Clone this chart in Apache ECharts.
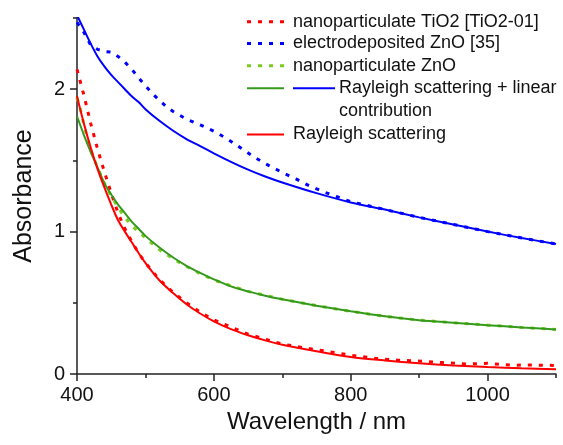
<!DOCTYPE html>
<html>
<head>
<meta charset="utf-8">
<script src="https://cdn.jsdelivr.net/npm/echarts@6/dist/echarts.min.js"></script>
<style>
  html, body { margin: 0; padding: 0; background: #fff; }
  #chart { width: 563px; height: 445px; }
</style>
</head>
<body>
<div id="chart"></div>
<script>
// measured spectra (dotted)
const tio2Wl = [400, 405, 410, 415, 420, 425, 430, 440, 450, 460, 470, 480, 490, 500, 520, 540, 560, 580, 600, 650, 700, 745, 780, 810, 840, 870, 905, 935, 970, 1000, 1035, 1065, 1100]
const tio2Abs = [2.14, 2.05, 1.96, 1.86, 1.76, 1.67, 1.58, 1.42, 1.27, 1.13, 1.02, 0.93, 0.85, 0.78, 0.665, 0.575, 0.5, 0.435, 0.38, 0.28, 0.21, 0.174, 0.148, 0.125, 0.108, 0.097, 0.09, 0.08, 0.07, 0.075, 0.062, 0.063, 0.06]

const znoEdWl = [400, 410, 420, 430, 440, 450, 460, 470, 480, 490, 500, 510, 520, 530, 540, 560, 580, 600, 620, 640, 660, 680, 700, 720, 740, 760, 780, 800, 850, 900, 950, 1000, 1050, 1100]
const znoEdAbs = [2.47, 2.4, 2.31, 2.28, 2.265, 2.26, 2.23, 2.19, 2.14, 2.08, 2.025, 1.97, 1.925, 1.88, 1.845, 1.79, 1.75, 1.705, 1.65, 1.585, 1.52, 1.465, 1.415, 1.37, 1.32, 1.28, 1.245, 1.21, 1.155, 1.1, 1.05, 1.0, 0.955, 0.913]

const znoNpWl = [400, 405, 410, 420, 430, 440, 450, 460, 470, 480, 490, 500, 510, 520, 540, 560, 580, 600, 650, 700, 750, 800, 850, 900, 950, 1000, 1050, 1100]
const znoNpAbs = [1.94, 1.86, 1.75, 1.57, 1.45, 1.34, 1.25, 1.17, 1.1, 1.04, 1.0, 0.955, 0.915, 0.875, 0.81, 0.755, 0.705, 0.66, 0.58, 0.525, 0.48, 0.44, 0.405, 0.378, 0.36, 0.343, 0.327, 0.313]

// fits (solid)
const fitWl = [400, 410, 420, 430, 440, 450, 460, 470, 480, 490, 500, 520, 540, 560, 580, 600, 625, 650, 675, 700, 750, 800, 850, 900, 950, 1000, 1050, 1100]
const rayleighFit = [1.95, 1.76, 1.59, 1.44, 1.31, 1.19, 1.08, 1.0, 0.925, 0.85, 0.78, 0.66, 0.57, 0.49, 0.425, 0.37, 0.315, 0.272, 0.236, 0.205, 0.16, 0.12, 0.095, 0.075, 0.06, 0.049, 0.04, 0.033]
const znoNpFit = [1.81, 1.68, 1.56, 1.45, 1.34, 1.26, 1.19, 1.13, 1.07, 1.02, 0.97, 0.89, 0.82, 0.76, 0.71, 0.665, 0.615, 0.58, 0.55, 0.525, 0.48, 0.44, 0.405, 0.378, 0.36, 0.343, 0.327, 0.313]
const znoEdFit = [2.52, 2.42, 2.32, 2.23, 2.16, 2.1, 2.05, 2.0, 1.95, 1.91, 1.86, 1.78, 1.71, 1.65, 1.6, 1.55, 1.49, 1.435, 1.387, 1.345, 1.27, 1.205, 1.155, 1.1, 1.05, 1.0, 0.955, 0.913]

// ticks
const xMajor = [400, 600, 800, 1000]
const xMinor = [500, 700, 900, 1100]
const yMajor = [0, 1, 2]
const yMinor = [0.5, 1.5, 2.5]

const legendRows = [
  'nanoparticulate TiO2 [TiO2-01]',
  'electrodeposited ZnO [35]',
  'nanoparticulate ZnO',
  'Rayleigh scattering + linear',
  'contribution',
  'Rayleigh scattering',
]

const RED = '#ff0000'
const BLUE = '#0000ff'
const GREEN = '#359a1c'
const LGREEN = '#7acc20'
const AXIS = '#222'
const FONT = '"Liberation Sans", Arial, sans-serif'
const DOTS = [4, 7]

const pairs = (xs, ys) => xs.map((x, i) => [x, ys[i]])

function dotted(data, color) {
  return {
    type: 'line', data, symbol: 'none', silent: true,
    lineStyle: { color, width: 3, type: DOTS, cap: 'butt' },
    z: 2,
  }
}
function solid(data, color) {
  return {
    type: 'line', data, symbol: 'none', silent: true, smooth: 0.3,
    lineStyle: { color, width: 2 },
    z: 3,
  }
}

function legendLine(x1, x2, y, color, dash) {
  return {
    type: 'line',
    shape: { x1, y1: y, x2, y2: y },
    style: { stroke: color, lineWidth: dash ? 3 : 2, lineDash: dash || null },
  }
}
function legendText(x, y, text) {
  return {
    type: 'text', x, y,
    style: { text, font: '18px ' + FONT, fill: '#111', verticalAlign: 'middle' },
  }
}

const rowY = [21.7, 43.5, 65.7, 88.3, 111.5, 134.5]

const chart = echarts.init(document.getElementById('chart'), null, { renderer: 'canvas' })

chart.setOption({
  animation: false,
  backgroundColor: '#fff',
  grid: { left: 77, right: 7, top: 18, bottom: 71 },
  textStyle: { fontFamily: FONT },
  xAxis: [
    {
      type: 'value', min: 400, max: 1100,
      name: 'Wavelength / nm', nameLocation: 'middle', nameGap: 30,
      nameTextStyle: { fontSize: 24, color: '#111', fontFamily: FONT },
      axisLine: { lineStyle: { color: AXIS, width: 1.5 } },
      axisTick: { customValues: xMajor, length: 7, lineStyle: { color: AXIS, width: 1.5 } },
      axisLabel: { customValues: xMajor, fontSize: 20, color: '#111', margin: 11, fontFamily: FONT, formatter: (v) => String(v) },
      splitLine: { show: false },
    },
    {
      type: 'value', min: 400, max: 1100, position: 'bottom',
      axisLine: { show: false },
      axisTick: { customValues: xMinor, length: 4, lineStyle: { color: AXIS, width: 1.5 } },
      axisLabel: { show: false },
      splitLine: { show: false },
    },
  ],
  yAxis: [
    {
      type: 'value', min: 0, max: 2.5,
      name: 'Absorbance', nameLocation: 'middle', nameGap: 40,
      nameTextStyle: { fontSize: 25, color: '#111', fontFamily: FONT },
      axisLine: { show: true, lineStyle: { color: AXIS, width: 1.5 } },
      axisTick: { show: true, customValues: yMajor, length: 7, lineStyle: { color: AXIS, width: 1.5 } },
      axisLabel: { customValues: yMajor, fontSize: 20, color: '#111', margin: 12, fontFamily: FONT },
      splitLine: { show: false },
    },
    {
      type: 'value', min: 0, max: 2.5, position: 'left',
      axisLine: { show: false },
      axisTick: { show: true, customValues: yMinor, length: 4, lineStyle: { color: AXIS, width: 1.5 } },
      axisLabel: { show: false },
      splitLine: { show: false },
    },
  ],
  series: [
    dotted(pairs(tio2Wl, tio2Abs), RED),
    dotted(pairs(znoEdWl, znoEdAbs), BLUE),
    dotted(pairs(znoNpWl, znoNpAbs), LGREEN),
    solid(pairs(fitWl, znoNpFit), GREEN),
    solid(pairs(fitWl, znoEdFit), BLUE),
    solid(pairs(fitWl, rayleighFit), RED),
  ],
  graphic: [
    legendLine(247, 284, rowY[0], RED, DOTS),
    legendText(293, rowY[0], legendRows[0]),
    legendLine(247, 284, rowY[1], BLUE, DOTS),
    legendText(293, rowY[1], legendRows[1]),
    legendLine(247, 284, rowY[2], LGREEN, DOTS),
    legendText(293, rowY[2], legendRows[2]),
    legendLine(247, 284, rowY[3], GREEN),
    legendLine(293, 335, rowY[3], BLUE),
    legendText(339, rowY[3], legendRows[3]),
    legendText(339, rowY[4], legendRows[4]),
    legendLine(247, 284, rowY[5], RED),
    legendText(293, rowY[5], legendRows[5]),
  ],
})
</script>
</body>
</html>
